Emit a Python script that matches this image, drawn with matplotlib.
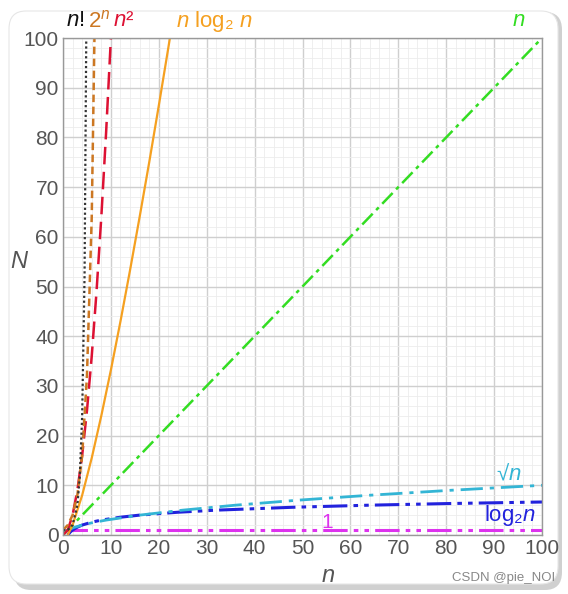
import matplotlib
matplotlib.use("Agg")
import matplotlib.pyplot as plt
from matplotlib.patches import FancyBboxPatch
from matplotlib.ticker import MultipleLocator

# ---- data ----
fact_x = [0, 1, 2, 3, 3.5, 4, 4.5, 5]
fact_y = [1, 1, 2, 6, 11.6, 24, 52.3, 120]

exp_x = [0, 1, 2, 3, 4, 5, 6, 7]
exp_y = [1, 2, 4, 8, 16, 32, 64, 128]

sq_x = [0, 1, 2, 3, 4, 5, 6, 7, 8, 9, 10, 11]
sq_y = [0, 1, 4, 9, 16, 25, 36, 49, 64, 81, 100, 121]

nlog_x = [1, 2, 4, 6, 8, 10, 12, 14, 16, 18, 20, 22, 24]
nlog_y = [0, 2, 8, 15.5, 24, 33.2, 43, 53.3, 64, 75, 86.4, 98.1, 110]

lin_x = [0, 100]
lin_y = [0, 100]

sqrt_x = [0, 0.25, 1, 2.25, 4, 6.25, 9, 16, 25, 36, 49, 64, 81, 100]
sqrt_y = [0, 0.5, 1, 1.5, 2, 2.5, 3, 4, 5, 6, 7, 8, 9, 10]

log_x = [1, 1.5, 2, 3, 4, 6, 8, 12, 16, 24, 32, 48, 64, 80, 100]
log_y = [0, 0.58, 1, 1.58, 2, 2.58, 3, 3.58, 4, 4.58, 5, 5.58, 6, 6.32, 6.64]

const_x = [0, 100]
const_y = [1, 1]

x_ticks = [0, 10, 20, 30, 40, 50, 60, 70, 80, 90, 100]
y_ticks = [0, 10, 20, 30, 40, 50, 60, 70, 80, 90, 100]

plt.rcParams['font.family'] = ['Liberation Sans', 'DejaVu Sans']
plt.rcParams['mathtext.fontset'] = 'custom'
plt.rcParams['mathtext.it'] = 'Liberation Sans:italic'
plt.rcParams['mathtext.rm'] = 'Liberation Sans'

fig = plt.figure(figsize=(5.68, 5.94), dpi=100)
fig.patch.set_facecolor('white')

# rounded card with shadow
shadow = FancyBboxPatch((14/568, 1 - 590/594), 548/568, 578/594,
                        boxstyle="round,pad=0,rounding_size=0.03",
                        transform=fig.transFigure, facecolor='#d0d0d0',
                        edgecolor='none', zorder=-3)
card = FancyBboxPatch((9/568, 1 - 584/594), 549/568, 573/594,
                      boxstyle="round,pad=0,rounding_size=0.03",
                      transform=fig.transFigure, facecolor='white',
                      edgecolor='#e6e6e6', linewidth=0.8, zorder=-2)
fig.patches.extend([shadow, card])

ax = fig.add_axes([63/568, 1 - 535/594, (542 - 63)/568, (535 - 38)/594])
ax.set_facecolor('white')
ax.set_xlim(0, 100)
ax.set_ylim(0, 100)
ax.xaxis.set_major_locator(MultipleLocator(10))
ax.yaxis.set_major_locator(MultipleLocator(10))
ax.xaxis.set_minor_locator(MultipleLocator(2))
ax.yaxis.set_minor_locator(MultipleLocator(2))
ax.grid(which='major', color='#cfcfcf', linewidth=1.0)
ax.grid(which='minor', color='#ececec', linewidth=0.6)
ax.set_axisbelow(True)
ax.tick_params(which='both', length=0, labelsize=15, labelcolor='#555555', pad=3)
ax.set_xticks(x_ticks)
ax.set_yticks(y_ticks)
for s in ax.spines.values():
    s.set_color('#999999')
    s.set_linewidth(1.0)

ax.plot(const_x, const_y, color='#dd33ee', lw=2.2, dashes=(8, 2, 1.5, 2, 1.5, 2))
ax.plot(log_x, log_y, color='#2222dd', lw=2.2, dashes=(8, 2, 1.5, 2, 1.5, 2))
ax.plot(sqrt_x, sqrt_y, color='#33b5d5', lw=2.0, dashes=(8, 2.5, 1.5, 2.5))
ax.plot(lin_x, lin_y, color='#33dd22', lw=1.8, dashes=(6, 2, 1.5, 2))
ax.plot(nlog_x, nlog_y, color='#f5a020', lw=1.6)
ax.plot(sq_x, sq_y, color='#dd1133', lw=1.8, dashes=(7, 3))
ax.plot(exp_x, exp_y, color='#cc7722', lw=1.8, dashes=(3, 1.8))
ax.plot(fact_x, fact_y, color='#333333', lw=1.6, dashes=(1, 1.2))

# axis labels
fig.text(328/568, 1 - 576/594, 'n', fontsize=17, style='italic', color='#555555',
         ha='center', va='center')
fig.text(19/568, 1 - 262/594, 'N', fontsize=17, style='italic', color='#555555',
         ha='center', va='center')

# curve labels (figure pixel coordinates)
def lab(x, y, s, c, size=16):
    fig.text(x/568, 1 - y/594, s, color=c, fontsize=size, ha='center', va='center')

lab(75, 21, r'$n$!', '#111111')
lab(99, 21, r'2$^{n}$', '#cc7722')
lab(124, 21, r'$n$²', '#dd1133')
lab(214, 21, r'$n$ log₂ $n$', '#f5a020')
lab(519, 21, r'$n$', '#33dd22')
lab(509, 475, r'√$n$', '#33b5d5')
lab(510, 515, r'log₂$n$', '#2222dd')
lab(327, 522, '1', '#dd33ee', size=15)

fig.text(555/568, 1 - 578/594, 'CSDN @pie_NOI', color='#888888', fontsize=9.5,
         ha='right', va='center')

fig.savefig('out.png', dpi=100, facecolor='white')
